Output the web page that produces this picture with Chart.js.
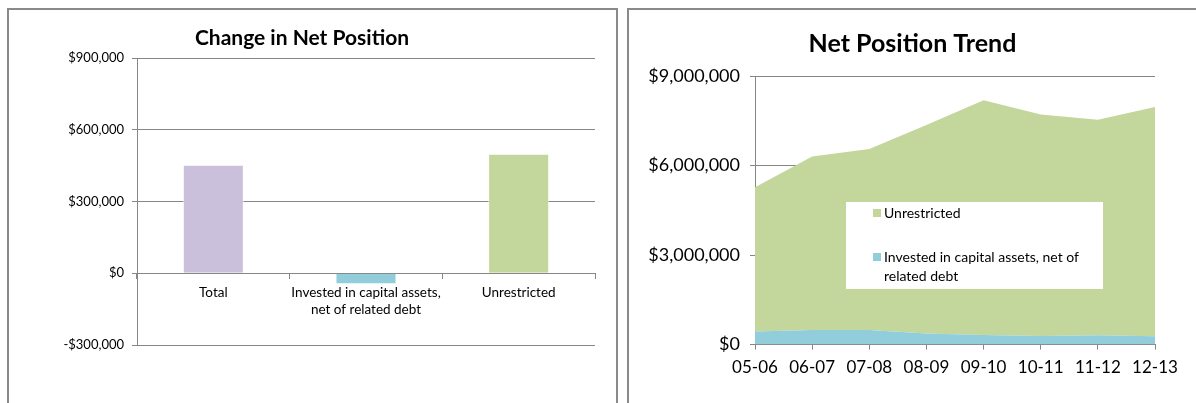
<!DOCTYPE html>
<html>
<head>
<meta charset="utf-8">
<script src="https://cdn.jsdelivr.net/npm/chart.js@4.4.1/dist/chart.umd.min.js"></script>
<style>
  body { margin: 0; background: #fff; width: 1196px; height: 403px; overflow: hidden; position: relative; }
  .panel { position: absolute; border: 2px solid #8a8a8a; background: #fff; box-sizing: border-box; }
  #p1 { left: 7px; top: 8px; width: 611px; height: 420px; }
  #p2 { left: 627px; top: 8px; width: 600px; height: 420px; }
  .panel canvas { position: absolute; left: 0; top: 0; }
</style>
</head>
<body>
<div class="panel" id="p1"><canvas id="myChart1" width="607" height="393"></canvas></div>
<div class="panel" id="p2"><canvas id="myChart2" width="567" height="393"></canvas></div>
<script>
const changeLabels = ["Total", ["Invested in capital assets,", "net of related debt"], "Unrestricted"];
const changeValues = [454000, -46000, 500000];
const changeColors = ["#cbc0db", "#92cddc", "#c3d69b"];

const years = ["05-06", "06-07", "07-08", "08-09", "09-10", "10-11", "11-12", "12-13"];
const invested = [440000, 490000, 490000, 370000, 320000, 290000, 310000, 280000];
const unrestricted = [4830000, 5810000, 6060000, 6990000, 7870000, 7420000, 7220000, 7680000];

const font = "Lato, 'Open Sans', sans-serif";
const gridColor = "#868686";
const investedColor = "#92cddc";
const unrestrictedColor = "#c3d69b";

function money(v) {
  const s = "$" + Math.abs(v).toLocaleString("en-US");
  return v < 0 ? "-" + s : s;
}

Chart.defaults.font.family = font;
Chart.defaults.color = "#000";

new Chart(document.getElementById("myChart1"), {
  type: "bar",
  data: {
    labels: changeLabels,
    datasets: [
      {
        data: changeValues,
        backgroundColor: changeColors,
        borderColor: "rgba(255,255,255,0.6)",
        borderWidth: 1,
        barPercentage: 0.4,
        categoryPercentage: 1,
      },
    ],
  },
  options: {
    responsive: false,
    animation: false,
    layout: { padding: { top: 16, right: 21, bottom: 58, left: 0 } },
    plugins: {
      legend: { display: false },
      tooltip: { enabled: false },
      title: {
        display: true,
        text: "Change in Net Position",
        font: { size: 21, weight: "bold" },
        padding: { top: 0, bottom: 7 },
      },
    },
    scales: {
      x: {
        position: { y: 0 },
        grid: { drawOnChartArea: false, color: gridColor, tickLength: 5 },
        border: { color: gridColor },
        ticks: { font: { size: 13.5, lineHeight: 1.25 }, padding: 6, maxRotation: 0 },
      },
      y: {
        min: -300000,
        max: 900000,
        afterFit: (s) => { s.width = 128; },
        grid: { color: gridColor, tickLength: 5 },
        border: { color: gridColor },
        ticks: { stepSize: 300000, font: { size: 13 }, padding: 8, callback: money },
      },
    },
  },
});

const legendBox = {
  id: "legendBox",
  afterDatasetsDraw(chart) {
    const ctx = chart.ctx;
    const a = chart.chartArea;
    const x = a.left + 91, y = a.top + 126, w = 257, h = 87;
    ctx.save();
    ctx.fillStyle = "#fff";
    ctx.fillRect(x, y, w, h);
    ctx.font = "14px " + font;
    ctx.textBaseline = "middle";
    const items = [
      { color: unrestrictedColor, lines: ["Unrestricted"], cy: 11 },
      { color: investedColor, lines: ["Invested in capital assets, net of", "related debt"], cy: 55 },
    ];
    items.forEach((it) => {
      ctx.fillStyle = it.color;
      ctx.fillRect(x + 27, y + it.cy - 4, 8, 8);
      ctx.fillStyle = "#000";
      it.lines.forEach((l, i) => ctx.fillText(l, x + 38, y + it.cy + i * 19));
    });
    ctx.restore();
  },
};

new Chart(document.getElementById("myChart2"), {
  type: "line",
  data: {
    labels: years,
    datasets: [
      {
        label: "Invested in capital assets, net of related debt",
        data: invested,
        backgroundColor: investedColor,
        borderWidth: 0,
        pointRadius: 0,
        fill: "origin",
      },
      {
        label: "Unrestricted",
        data: unrestricted,
        backgroundColor: unrestrictedColor,
        borderWidth: 0,
        pointRadius: 0,
        fill: "-1",
      },
    ],
  },
  plugins: [legendBox],
  options: {
    responsive: false,
    animation: false,
    layout: { padding: { top: 19, right: 0, bottom: 17, left: 0 } },
    plugins: {
      legend: { display: false },
      tooltip: { enabled: false },
      title: {
        display: true,
        text: "Net Position Trend",
        font: { size: 25, weight: "bold" },
        padding: { top: 0, bottom: 17 },
      },
    },
    scales: {
      x: {
        offset: false,
        grid: { drawOnChartArea: false, color: gridColor, tickLength: 5 },
        border: { color: gridColor },
        ticks: { font: { size: 17 }, padding: 8, maxRotation: 0 },
      },
      y: {
        stacked: true,
        min: 0,
        max: 9000000,
        afterFit: (s) => { s.width = 126; },
        grid: { color: gridColor, tickLength: 5 },
        border: { color: gridColor },
        ticks: { stepSize: 3000000, font: { size: 18 }, padding: 10, callback: money },
      },
      // empty right-hand axis only reserves the margin right of the plot
      yRight: {
        position: "right",
        afterFit: (s) => { s.width = 41; },
        grid: { display: false },
        border: { display: false },
        ticks: { display: false },
      },
    },
  },
});
</script>
</body>
</html>
